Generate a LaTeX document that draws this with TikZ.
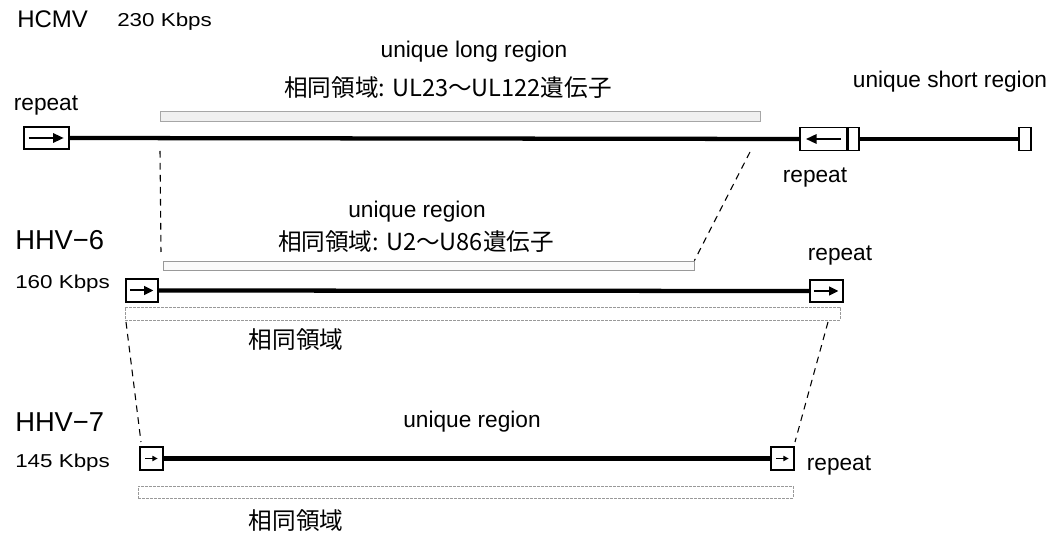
\documentclass[tikz,border=0pt]{standalone}
\usepackage{fontspec}
\setmainfont{Liberation Sans}
\newfontfamily\jpfont{Noto Sans CJK JP}
\newfontfamily\widesans[FakeStretch=1.2]{Liberation Sans}
\usetikzlibrary{arrows.meta}
\begin{document}
\begin{tikzpicture}[x=0.75pt,y=-0.75pt,
  rbox/.style={draw,line width=1.1pt,fill=white,inner sep=0pt},
  genome/.style={line width=3.2pt},
  lbar/.style={draw=gray!70,fill=gray!12,line width=0.6pt},
  hbar/.style={draw=gray!80,dash pattern=on 2pt off 1pt,line width=0.5pt},
  conn/.style={line width=0.8pt,dash pattern=on 5pt off 4pt},
  big/.style={font=\fontsize{20.5}{24}\selectfont},
  mid/.style={font=\fontsize{18}{21}\selectfont},
  kb/.style={font=\widesans\fontsize{14}{16}\selectfont},
  lab/.style={font=\fontsize{17}{20}\selectfont},
  jp/.style={font=\jpfont\fontsize{17.7}{21}\selectfont},
  arr/.style={-{Triangle[length=8pt,width=7pt]},line width=1.6pt}
]
\useasboundingbox (0,0) rectangle (1054,534);

% ---------- HCMV ----------
\node[mid,anchor=base west,inner sep=0] (hcmv) at (17,28) {HCMV};
\node[kb,anchor=base west,inner sep=0] (hcmvkb) at (117,27) {230 Kbps};
\node[lab] (ulr) at (474,52) {unique long region};
\node[jp] (uljp) at (448,88) {相同領域: UL23〜UL122遺伝子};
\node[lab] (rep1) at (46,106) {repeat};
\node[lab] (usr) at (950,82) {unique short region};
\node[lab] (rep2) at (815,178) {repeat};

\node[lbar,minimum width=450pt,minimum height=7.5pt,inner sep=0] (barL) at (460,116) {};

\node[rbox,minimum width=33.75pt,minimum height=16.5pt] (b1) at (46.5,138) {};
\node[rbox,minimum width=44.25pt,minimum height=17.25pt] (b2) at (829.5,139) {};
\node[rbox,minimum width=9pt,minimum height=17.25pt] (b3) at (1025,139) {};
\draw[genome] (b1.east) -- (b2.west);
\draw[genome] (b2.east) -- (b3.west);
\draw[arr] ([xshift=4pt]b1.west) -- ([xshift=-4.5pt]b1.east);
\draw[arr] ([xshift=-14pt]b2.east) -- ([xshift=5pt]b2.west);
\draw[line width=2.4pt] ([xshift=-9pt]b2.north east) -- ([xshift=-9pt]b2.south east);

% ---------- HHV-6 ----------
\node[big,anchor=base west,inner sep=0] (hhv6) at (15,250) {HHV−6};
\node[kb,anchor=base west,inner sep=0] (hhv6kb) at (15,289) {160 Kbps};
\node[lab] (ur6) at (417,212) {unique region};
\node[jp] (u6jp) at (416,242) {相同領域: U2〜U86遺伝子};
\node[lab] (rep3) at (840,256) {repeat};

\node[lbar,draw=gray!80,fill=gray!4,minimum width=398.25pt,minimum height=6.75pt,inner sep=0] (bar6) at (428.5,265.5) {};

\node[rbox,minimum width=24pt,minimum height=17.25pt] (c1) at (142,290.5) {};
\node[rbox,minimum width=24.75pt,minimum height=16.5pt] (c2) at (826.5,291) {};
\draw[genome] (c1.east) -- (c2.west);
\draw[-{Triangle[length=7pt,width=6.5pt]},line width=1.5pt] ([xshift=3.5pt]c1.west) -- ([xshift=-4pt]c1.east);
\draw[-{Triangle[length=7pt,width=6.5pt]},line width=1.5pt] ([xshift=3.5pt]c2.west) -- ([xshift=-4pt]c2.east);

\node[hbar,minimum width=536.25pt,minimum height=9.75pt,inner sep=0] (h6) at (482.5,313.5) {};
\node[jp] (h6jp) at (296,340) {相同領域};

% ---------- HHV-7 ----------
\node[big,anchor=base west,inner sep=0] (hhv7) at (15,432) {HHV−7};
\node[kb,anchor=base west,inner sep=0] (hhv7kb) at (15,468) {145 Kbps};
\node[lab] (ur7) at (472,422) {unique region};
\node[lab] (rep4) at (839,466) {repeat};

\node[rbox,minimum width=17.25pt,minimum height=17.25pt,line width=0.9pt] (d1) at (151.5,458.5) {};
\node[rbox,minimum width=17.25pt,minimum height=17.25pt,line width=0.9pt] (d2) at (782.5,458.5) {};
\draw[genome] (d1.east) -- (d2.west);
\draw[-{Triangle[length=4pt,width=4pt]},line width=0.9pt] ([xshift=4.5pt]d1.west) -- ([xshift=-4.5pt]d1.east);
\draw[-{Triangle[length=4pt,width=4pt]},line width=0.9pt] ([xshift=4.5pt]d2.west) -- ([xshift=-4.5pt]d2.east);

\node[hbar,minimum width=491.25pt,minimum height=9pt,inner sep=0] (h7) at (465.5,492) {};
\node[jp] (h7jp) at (296,521) {相同領域};

% ---------- connectors ----------
\coordinate (p1) at (160,151);
\coordinate (p2) at (161,252);
\coordinate (p3) at (750,152);
\draw[conn] (p1) -- (p2);
\draw[conn] (p3) -- (bar6.north east);
\coordinate (q1) at (126,322);
\coordinate (q2) at (141,442);
\coordinate (q3) at (828,322);
\coordinate (q4) at (795,442);
\draw[conn] (q1) -- (q2);
\draw[conn] (q3) -- (q4);
\end{tikzpicture}
\end{document}
